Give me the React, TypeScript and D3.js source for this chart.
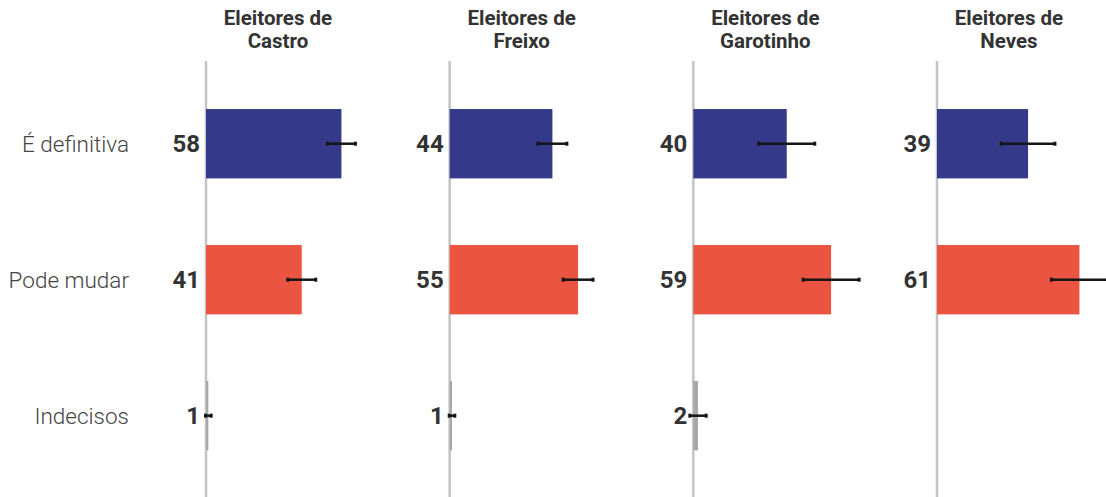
import React from "react";
import * as d3 from "d3";

const categories = ["É definitiva", "Pode mudar", "Indecisos"];
const panels = ["Castro", "Freixo", "Garotinho", "Neves"];
const definitiva = [58, 44, 40, 39];
const podeMudar = [41, 55, 59, 61];
const indecisos = [1, 1, 2, 0];
const errDefinitiva = [6, 6.2, 12, 11.5];
const errPodeMudar = [6, 6.4, 12, 12];
const errIndecisos = [1.2, 1.2, 3.5, 0];

const colors = ["#343a89", "#eb5441", "#a8a8a8"];

const W = 1106;
const H = 497;

export default function App() {
  const panelX = d3.scalePoint<string>().domain(panels).range([206, 937]);
  const x = d3.scaleLinear().domain([0, 100]).range([0, 233.5]);
  const y = d3
    .scaleBand<string>()
    .domain(categories)
    .range([42.4, 517])
    .paddingInner(0.49)
    .paddingOuter(0.49);
  const bw = y.bandwidth();
  const series = [definitiva, podeMudar, indecisos];
  const errs = [errDefinitiva, errPodeMudar, errIndecisos];

  return (
    <svg
      width={W}
      height={H}
      style={{ position: "absolute", left: 0, top: 0, background: "#fff" }}
      fontFamily="Roboto, sans-serif"
    >
      {categories.map((c) => (
        <text
          key={c}
          x={129}
          y={(y(c) as number) + bw / 2}
          textAnchor="end"
          dominantBaseline="central"
          fontSize={22.5}
          fontWeight={300}
          fill="#444"
        >
          {c}
        </text>
      ))}
      {panels.map((p, pi) => {
        const px = panelX(p) as number;
        return (
          <g key={p} transform={`translate(${px},0)`}>
            <text
              x={72}
              y={24.5}
              textAnchor="middle"
              fontSize={20.5}
              fontWeight={700}
              fill="#333"
            >
              Eleitores de
            </text>
            <text
              x={72}
              y={47.5}
              textAnchor="middle"
              fontSize={20.5}
              fontWeight={700}
              fill="#333"
            >
              {p}
            </text>
            <line x1={0} x2={0} y1={61} y2={H} stroke="#c4c4c4" strokeWidth={2.5} />
            {categories.map((c, ci) => {
              const v = series[ci][pi];
              if (!v) return null;
              const e = errs[ci][pi];
              const cy = (y(c) as number) + bw / 2;
              const lo = Math.max(-2.5, v - e);
              const hi = v + e;
              return (
                <g key={c}>
                  <rect
                    x={x(0)}
                    y={y(c) as number}
                    width={x(v) - x(0)}
                    height={bw}
                    fill={colors[ci]}
                  />
                  <line
                    x1={x(lo)}
                    x2={x(hi)}
                    y1={cy}
                    y2={cy}
                    stroke="#151515"
                    strokeWidth={2.5}
                  />
                  <rect x={x(lo) - 1.5} y={cy - 2} width={3} height={4} fill="#151515" />
                  <rect x={x(hi) - 1.5} y={cy - 2} width={3} height={4} fill="#151515" />
                  <text
                    x={-6}
                    y={cy}
                    textAnchor="end"
                    dominantBaseline="central"
                    fontSize={24}
                    fontWeight={700}
                    fill="#333"
                  >
                    {v}
                  </text>
                </g>
              );
            })}
          </g>
        );
      })}
    </svg>
  );
}
